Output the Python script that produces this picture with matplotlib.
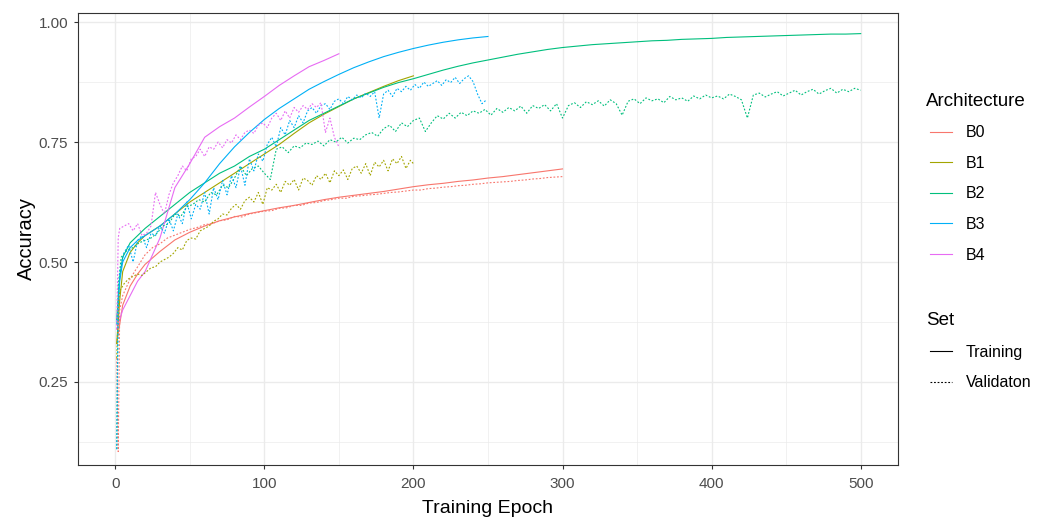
import matplotlib
matplotlib.use("Agg")
import matplotlib.pyplot as plt
from matplotlib.lines import Line2D
from matplotlib.ticker import MultipleLocator

plt.rcParams["font.family"] = ["Liberation Sans", "DejaVu Sans"]

archs = ["B0", "B1", "B2", "B3", "B4"]
colors = ["#F8766D", "#A3A500", "#00BF7D", "#00B0F6", "#E76BF3"]
set_labels = ["Training", "Validaton"]

# ---- training accuracy ----
b0_train_ep = [1, 3, 5, 10, 15, 20] + list(range(30, 301, 10))
b0_train = [0.33, 0.37, 0.41, 0.45, 0.475, 0.495,
            0.522, 0.546, 0.562, 0.575, 0.586, 0.594, 0.601, 0.607, 0.613, 0.618,
            0.624, 0.630, 0.635, 0.639, 0.643, 0.647, 0.652, 0.657, 0.661, 0.664,
            0.668, 0.671, 0.675, 0.678, 0.682, 0.686, 0.690, 0.694]

b1_train_ep = [1, 3, 5, 10, 15, 20] + list(range(30, 201, 10))
b1_train = [0.33, 0.42, 0.48, 0.52, 0.54, 0.555,
            0.575, 0.60, 0.625, 0.645, 0.665, 0.685, 0.705, 0.725, 0.745, 0.768,
            0.79, 0.808, 0.824, 0.84, 0.853, 0.866, 0.878, 0.888]

b2_train_ep = [1, 3, 5, 10, 15, 20] + list(range(30, 501, 10))
b2_train = [0.38, 0.47, 0.51, 0.54, 0.555, 0.57,
            0.595, 0.62, 0.645, 0.665, 0.685, 0.70, 0.72, 0.735, 0.755, 0.775,
            0.795, 0.81, 0.825, 0.84, 0.852, 0.864, 0.874, 0.882, 0.891, 0.90,
            0.908, 0.915, 0.921, 0.927, 0.933, 0.938, 0.943, 0.947, 0.950, 0.953,
            0.955, 0.957, 0.959, 0.961, 0.962, 0.964, 0.965, 0.966, 0.968, 0.969,
            0.970, 0.971, 0.972, 0.973, 0.974, 0.975, 0.975, 0.976]

b3_train_ep = [1, 3, 5, 10, 15, 20] + list(range(30, 251, 10))
b3_train = [0.37, 0.46, 0.50, 0.53, 0.545, 0.555,
            0.575, 0.60, 0.63, 0.665, 0.705, 0.74, 0.77, 0.797, 0.82, 0.84,
            0.86, 0.876, 0.891, 0.905, 0.917, 0.928, 0.937, 0.945, 0.952, 0.958,
            0.963, 0.967, 0.970]

b4_train_ep = [1, 3, 5, 10, 15, 20] + list(range(30, 151, 10))
b4_train = [0.36, 0.38, 0.40, 0.43, 0.46, 0.48,
            0.55, 0.655, 0.705, 0.76, 0.782, 0.80, 0.823, 0.845, 0.868, 0.888,
            0.907, 0.92, 0.934]

# ---- validation accuracy ----
b0_val_ep = [1, 2, 3] + list(range(5, 301, 5))
b0_val = [0.30, 0.105, 0.40,
          0.43, 0.465, 0.49, 0.515, 0.53, 0.538, 0.55, 0.556, 0.562, 0.568,
          0.572, 0.578, 0.58, 0.586, 0.588, 0.595, 0.594, 0.60, 0.603, 0.606,
          0.607, 0.612, 0.613, 0.618, 0.618, 0.623, 0.624, 0.628, 0.630, 0.633,
          0.633, 0.637, 0.638, 0.640, 0.641, 0.643, 0.645, 0.646, 0.648, 0.650,
          0.650, 0.653, 0.654, 0.656, 0.657, 0.659, 0.660, 0.662, 0.663, 0.665,
          0.666, 0.667, 0.668, 0.670, 0.671, 0.673, 0.674, 0.676, 0.677, 0.678]

b1_val_ep = [1, 2] + list(range(3, 199, 3)) + [200]
b1_val = [0.30, 0.40,
          0.44, 0.455, 0.465, 0.47, 0.475, 0.472, 0.48, 0.488, 0.49, 0.50,
          0.505, 0.51, 0.518, 0.53, 0.525, 0.545, 0.55, 0.548, 0.565, 0.57,
          0.575, 0.585, 0.59, 0.60, 0.598, 0.612, 0.62, 0.61, 0.628, 0.635,
          0.625, 0.645, 0.62, 0.655, 0.65, 0.662, 0.645, 0.668, 0.66, 0.672,
          0.65, 0.675, 0.67, 0.66, 0.68, 0.672, 0.685, 0.665, 0.69, 0.68,
          0.692, 0.672, 0.695, 0.70, 0.685, 0.705, 0.68, 0.708, 0.698, 0.712,
          0.69, 0.715, 0.705, 0.72, 0.695, 0.712,
          0.705]

b2_val_ep = [1, 2] + list(range(4, 501, 4))
b2_val = [0.11, 0.45,
          0.51, 0.525, 0.53, 0.54, 0.545, 0.55, 0.56, 0.575, 0.58, 0.60,
          0.595, 0.615, 0.62, 0.63, 0.625, 0.645, 0.64, 0.66, 0.655, 0.675,
          0.70, 0.68, 0.695, 0.70, 0.685, 0.672, 0.735, 0.74, 0.728, 0.742,
          0.738, 0.748, 0.745, 0.752, 0.742, 0.755, 0.75, 0.76, 0.748, 0.758,
          0.755, 0.765, 0.77, 0.762, 0.778, 0.785, 0.772, 0.79, 0.782, 0.795,
          0.80, 0.772, 0.79, 0.805, 0.798, 0.81, 0.80, 0.812, 0.805, 0.815,
          0.81, 0.818, 0.806, 0.82, 0.812, 0.822, 0.815, 0.825, 0.81, 0.826,
          0.82, 0.828, 0.815, 0.83, 0.80, 0.826, 0.832, 0.822, 0.834, 0.828,
          0.836, 0.825, 0.838, 0.83, 0.806, 0.835, 0.84, 0.83, 0.842, 0.836,
          0.84, 0.832, 0.845, 0.838, 0.842, 0.835, 0.846, 0.84, 0.848, 0.842,
          0.846, 0.84, 0.85, 0.845, 0.838, 0.80, 0.848, 0.852, 0.844, 0.85,
          0.855, 0.846, 0.852, 0.858, 0.848, 0.855, 0.86, 0.85, 0.857, 0.862,
          0.852, 0.86, 0.855, 0.862, 0.858]

b3_val_ep = [1, 2] + list(range(3, 250, 3))
b3_val = [0.11, 0.40,
          0.48, 0.52, 0.535, 0.50, 0.545, 0.555, 0.53, 0.56, 0.555, 0.575,
          0.56, 0.59, 0.565, 0.60, 0.58, 0.625, 0.59, 0.62, 0.61, 0.645,
          0.60, 0.655, 0.63, 0.67, 0.64, 0.68, 0.655, 0.70, 0.66, 0.715,
          0.69, 0.725, 0.71, 0.745, 0.76, 0.74, 0.78, 0.765, 0.795, 0.78,
          0.805, 0.79, 0.815, 0.822, 0.81, 0.826, 0.83, 0.818, 0.835, 0.84,
          0.83, 0.845, 0.838, 0.848, 0.842, 0.852, 0.845, 0.855, 0.80, 0.85,
          0.858, 0.845, 0.862, 0.855, 0.866, 0.858, 0.87, 0.862, 0.875, 0.866,
          0.872, 0.878, 0.868, 0.88, 0.874, 0.885, 0.872, 0.882, 0.888, 0.876,
          0.85, 0.83, 0.838]

b4_val_ep = [1, 2] + list(range(3, 151, 3))
b4_val = [0.36, 0.55,
          0.57, 0.575, 0.58, 0.565, 0.58, 0.555, 0.56, 0.575, 0.645, 0.62,
          0.60, 0.64, 0.665, 0.68, 0.70, 0.69, 0.715, 0.72, 0.735, 0.72,
          0.74, 0.735, 0.75, 0.738, 0.755, 0.748, 0.765, 0.755, 0.77, 0.775,
          0.768, 0.785, 0.79, 0.78, 0.80, 0.81, 0.795, 0.815, 0.80, 0.822,
          0.812, 0.826, 0.818, 0.83, 0.822, 0.832, 0.77, 0.80, 0.76, 0.74]

train = [(b0_train_ep, b0_train), (b1_train_ep, b1_train), (b2_train_ep, b2_train),
         (b3_train_ep, b3_train), (b4_train_ep, b4_train)]
val = [(b0_val_ep, b0_val), (b1_val_ep, b1_val), (b2_val_ep, b2_val),
       (b3_val_ep, b3_val), (b4_val_ep, b4_val)]

dotted = (0, (1.6, 1.6))

fig = plt.figure(figsize=(10.45, 5.17), dpi=100)
ax = fig.add_axes([0.0746, 0.1006, 0.7847, 0.8743])

for (ep, acc), c in zip(train, colors):
    ax.plot(ep, acc, color=c, lw=0.8)
for (ep, acc), c in zip(val, colors):
    ax.plot(ep, acc, color=c, lw=0.8, linestyle=dotted)

ax.set_xlim(-25, 525)
ax.set_ylim(0.077, 1.019)
ax.xaxis.set_major_locator(MultipleLocator(100))
ax.xaxis.set_minor_locator(MultipleLocator(50))
ax.yaxis.set_minor_locator(MultipleLocator(0.125))
ax.set_yticks([0.25, 0.5, 0.75, 1.0])
ax.set_yticklabels(["0.25", "0.50", "0.75", "1.00"])
ax.grid(which="major", color="#EBEBEB", lw=1.0)
ax.grid(which="minor", color="#EBEBEB", lw=0.5)
ax.set_axisbelow(True)
ax.tick_params(which="major", length=3, width=0.8, color="#333333",
               labelsize=11, labelcolor="#4D4D4D", pad=4)
ax.tick_params(axis="x", which="major", pad=6)
ax.tick_params(which="minor", length=0)
for s in ax.spines.values():
    s.set_color("#333333")
    s.set_linewidth(0.8)

ax.set_xlabel("Training Epoch", fontsize=14, labelpad=6)
ax.set_ylabel("Accuracy", fontsize=14.5, labelpad=2)

# legends: titles drawn as text, entries via fig.legend
fig.text(0.886, 0.8045, "Architecture", fontsize=13.5, va="center", ha="left")
arch_handles = [Line2D([], [], color=c, lw=0.8) for c in colors]
fig.legend(arch_handles, archs, loc="upper left", bbox_to_anchor=(0.890, 0.758),
           frameon=False, fontsize=11.5, handlelength=1.4, handletextpad=0.85,
           labelspacing=0.98, borderpad=0, borderaxespad=0)

fig.text(0.886, 0.381, "Set", fontsize=13.5, va="center", ha="left")
set_handles = [Line2D([], [], color="black", lw=0.8),
               Line2D([], [], color="black", lw=0.8, linestyle=dotted)]
fig.legend(set_handles, set_labels, loc="upper left", bbox_to_anchor=(0.890, 0.333),
           frameon=False, fontsize=11.5, handlelength=1.4, handletextpad=0.85,
           labelspacing=0.98, borderpad=0, borderaxespad=0)

fig.savefig("out.png", dpi=100)
